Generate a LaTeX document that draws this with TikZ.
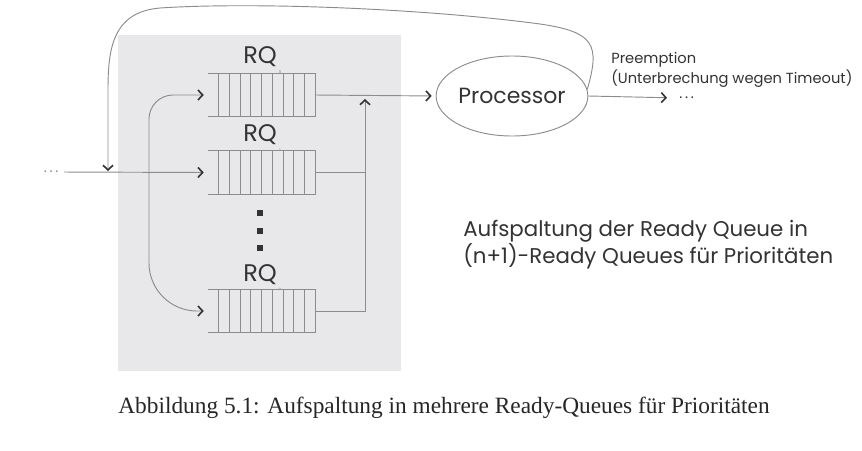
\documentclass[tikz,border=0pt]{standalone}
\usepackage{fontspec}
\setmainfont{Liberation Serif}
\newfontfamily\gothic{Poppins}
\usetikzlibrary{arrows.meta,shapes.geometric,calc}
\definecolor{panel}{HTML}{E8E8EA}
\definecolor{ln}{HTML}{8C8C8C}
\definecolor{txt}{HTML}{333333}
\begin{document}
\begin{tikzpicture}[x=0.75pt,y=-0.75pt,
  line/.style={draw=ln, line width=0.7pt},
  arr/.style={line, -{Straight Barb[length=3.5pt,width=7.5pt,line width=1.2pt,color=txt]}},
  qbox/.style={minimum width=80.25pt, minimum height=32.5pt, inner sep=0pt},
  rq/.style={font=\gothic\fontsize{18}{18}\selectfont, text=txt},
  sub/.style={font=\gothic\fontsize{3}{3}\selectfont, text=ln},
  gothic/.style={font=\gothic, text=txt}
]
\useasboundingbox (0,0) rectangle (862,450);
\fill[panel] (118,35) rectangle (401,371);

% queues
\node[qbox] (q1) at (261.5,95) {};
\node[qbox] (q2) at (261.5,172.5) {};
\node[qbox] (q3) at (261.5,311) {};
\foreach \q in {q1,q2,q3}{
  \draw[line] (\q.north west) -- (\q.north east) -- (\q.south east) -- (\q.south west);
  \foreach \i in {1,...,9}
    \draw[line] ($(\q.north west)!\i/10!(\q.north east)$) -- ($(\q.south west)!\i/10!(\q.south east)$);
}
\node[rq] (rq1) at (260,57) {RQ};
\node[rq] (rq2) at (260,135) {RQ};
\node[rq] (rq3) at (260,275) {RQ};
\node[sub] (s1) at (280,72) {0};
\node[sub] (s2) at (280,150) {1};
\node[sub] (s3) at (280,289) {n};

% vertical dots
\fill[txt] (257,210) rectangle (263,216);
\fill[txt] (257,228) rectangle (263,234);
\fill[txt] (257,245) rectangle (263,251);

% processor
\node[draw=ln, line width=0.7pt, ellipse, minimum width=112.5pt, minimum height=60pt, inner sep=0pt,
      font=\gothic\fontsize{16.5}{16.5}\selectfont, text=txt] (proc) at (512,96) {Processor};

% merge
\coordinate (mtop) at (365,99);
\draw[arr, shorten >=3pt] (q1.east) -- (proc.west);
\draw[arr] (q3.east) -| (mtop);
\draw[line] (q2.east) -- (q2.east -| mtop);

% output
\node[gothic, font=\gothic\fontsize{11}{11}\selectfont, inner sep=0pt, anchor=west] (odots) at (679,98) {.\kern2pt.\kern2pt.};
\draw[arr, shorten >=9pt] (proc.east) -- (odots.west);
\node[gothic, anchor=west, align=left, inner sep=0pt, font=\gothic\fontsize{11}{15}\selectfont] (pre) at (611,70)
  {Preemption\\(Unterbrechung wegen Timeout)};

% input
\node[font=\gothic\fontsize{11}{11}\selectfont, text=ln, inner sep=1pt, anchor=east] (idots) at (60,172) {.\kern2pt.\kern2pt.};
\coordinate (bx) at (149,173);
\draw[arr, shorten >=3pt, shorten <=3pt] (idots.east) -- (q2.west);
\draw[arr, rounded corners=18pt, shorten >=3pt] (bx) |- (q1.west);
\draw[arr, rounded corners=36pt, shorten >=3pt] (bx) |- (q3.west);

% feedback
\coordinate (fb) at (108,171);
\draw[arr] (proc.5) .. controls (600,45) and (595,32) .. (540,24)
  .. controls (420,8) and (250,2) .. (160,8)
  .. controls (112,12) and (108,50) .. (108,90) -- (fb);

% description
\node[gothic, anchor=west, align=left, inner sep=0pt, font=\gothic\fontsize{16}{18.75}\selectfont] (desc) at (463,245)
  {Aufspaltung der Ready Queue in\\(n+1)-Ready Queues für Prioritäten};

% caption
\node[font=\fontsize{17.5}{17.5}\selectfont, text=black!85] (cap) at (444,408)
  {Abbildung 5.1: Aufspaltung in mehrere Ready-Queues für Prioritäten};
\end{tikzpicture}
\end{document}
